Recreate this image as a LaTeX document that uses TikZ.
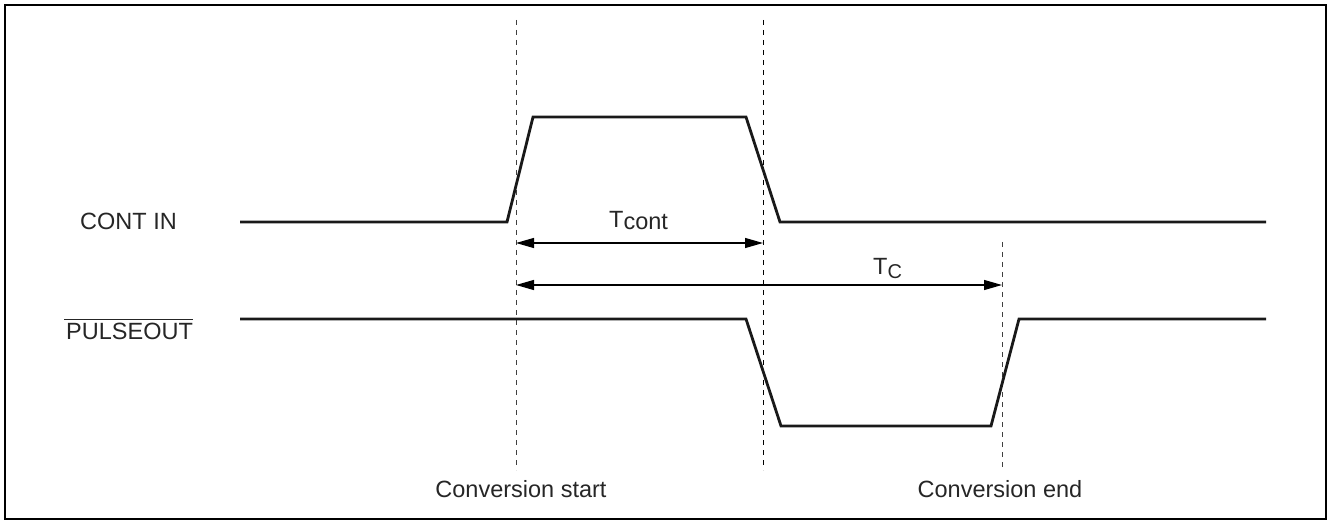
\documentclass[tikz,border=0pt]{standalone}
\usepackage{fontspec}
\setmainfont{Liberation Sans}
\usetikzlibrary{arrows.meta}
\begin{document}
\begin{tikzpicture}[x=1pt,y=-1pt,
  sig/.style={line width=2.8pt, line join=miter, color=black!90},
  guide/.style={line width=1pt, dash pattern=on 5pt off 5pt},
  dim/.style={line width=1.2pt, {Triangle[length=18pt,width=10pt]}-{Triangle[length=18pt,width=10pt]}},
  lbl/.style={inner sep=0pt, font=\fontsize{23.5}{28}\selectfont, text=black!85}
]
\useasboundingbox (0,0) rectangle (1330,521);
\draw[line width=2.6pt] (5,5) rectangle (1326,519);

% guide lines
\coordinate (g1t) at (516,20);  \coordinate (g1b) at (516,470);
\coordinate (g2t) at (763,20);  \coordinate (g2b) at (763,470);
\coordinate (g3t) at (1002,242); \coordinate (g3b) at (1002,470);
\draw[guide, black!75] (g1t) -- (g1b);
\draw[guide] (g2t) -- (g2b);
\draw[guide, black!75] (g3t) -- (g3b);

% CONT IN signal
\draw[sig] (240,222) -- (507,222) -- (533,117) -- (746,117) -- (780,222) -- (1266,222);
% PULSEOUT signal
\draw[sig] (240,319) -- (746,319) -- (781,426) -- (991,426) -- (1019,319) -- (1266,319);

% dimension arrows
\coordinate (a1l) at (516,243); \coordinate (a1r) at (763,243);
\coordinate (a2l) at (516,285); \coordinate (a2r) at (1002,285);
\draw[dim] (a1l) -- (a1r);
\draw[dim] (a2l) -- (a2r);

% labels
\node[lbl, anchor=base west] (contin) at (80,230) {CONT IN};
\node[lbl, anchor=base west] (pulse) at (66,339) {PULSEOUT};
\coordinate (olw) at (64,319.5); \coordinate (ole) at (193,319.5);
\draw[line width=1pt, black!85] (olw) -- (ole);
\node[lbl, anchor=base west] (tcont) at (609,228) {T\raisebox{-2pt}{cont}};
\node[lbl, anchor=base west] (tc) at (873,275) {T\raisebox{-4pt}{\fontsize{20}{24}\selectfont C}};
\node[lbl, anchor=base] (cstart) at (521,497) {Conversion start};
\node[lbl, anchor=base] (cend) at (1000,497) {Conversion end};
\end{tikzpicture}
\end{document}
